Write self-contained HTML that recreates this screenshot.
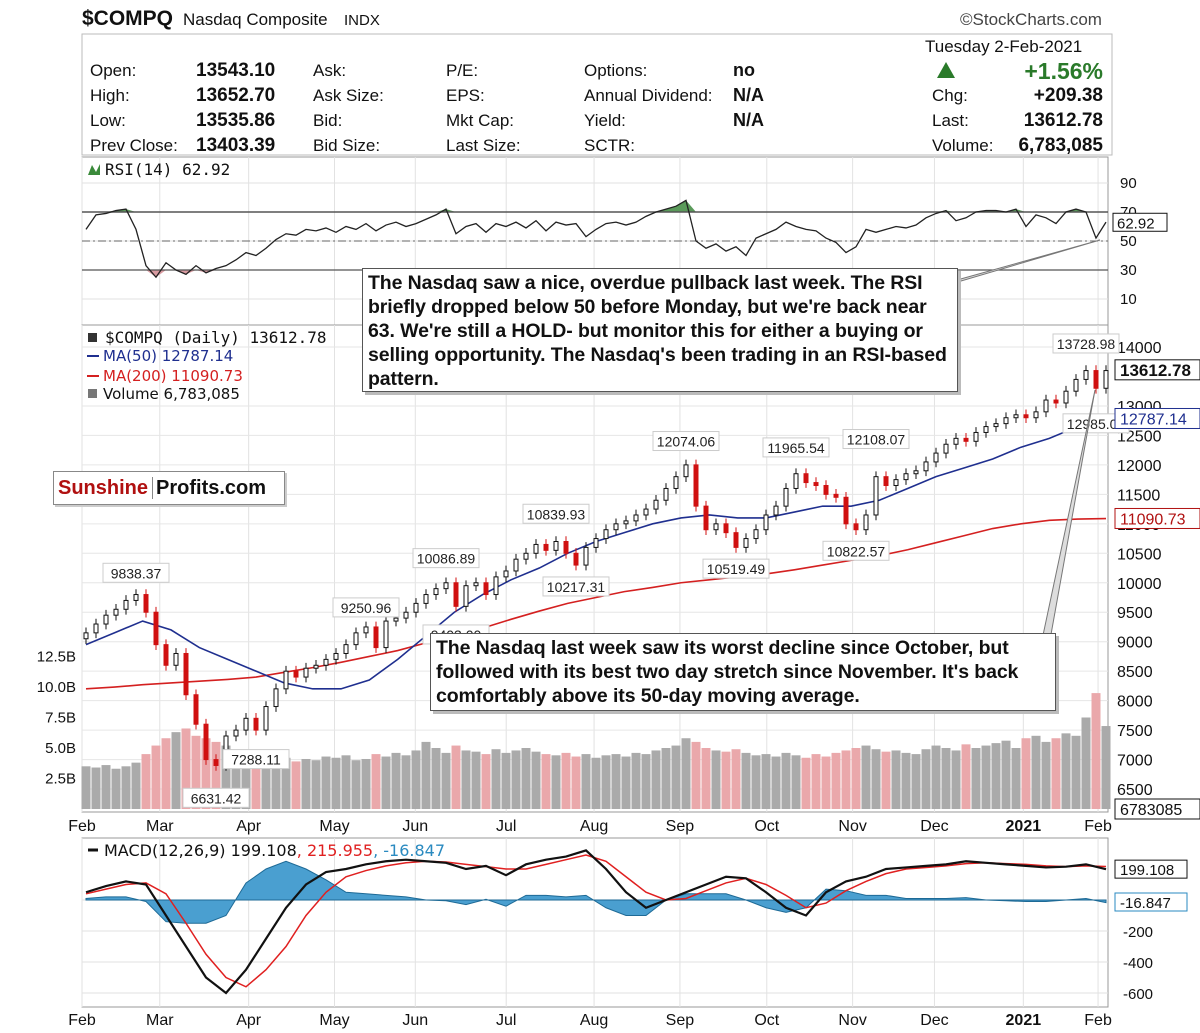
<!DOCTYPE html>
<html><head><meta charset="utf-8">
<style>
body{margin:0;background:#fff;width:1200px;height:1033px;overflow:hidden;font-family:"Liberation Sans",sans-serif}
svg{position:absolute;left:0;top:0}
.note{position:absolute;background:#fff;border:1px solid #555;box-shadow:3px 3px 0 #bbb;font:bold 19.5px "Liberation Sans",sans-serif;color:#111;line-height:24px;padding:2px 5px;letter-spacing:-0.1px}
</style></head><body>
<svg id="c" width="1200" height="1033" xmlns="http://www.w3.org/2000/svg"></svg>
<div class="note" style="left:362px;top:268px;width:584px;height:118px">The Nasdaq saw a nice, overdue pullback last week. The RSI briefly dropped below 50 before Monday, but we're back near 63. We're still a HOLD- but monitor this for either a buying or selling opportunity. The Nasdaq's been trading in an RSI-based pattern.</div>
<div class="note" style="left:430px;top:633px;width:614px;height:72px">The Nasdaq last week saw its worst decline since October, but followed with its best two day stretch since November. It's back comfortably above its 50-day moving average.</div>
<div style="position:absolute;left:53px;top:471px;width:230px;height:32px;border:1px solid #888;background:#fff;box-shadow:2px 2px 0 #ccc;font:bold 20px 'Liberation Sans',sans-serif;line-height:32px"><span style="color:#b01010;padding:0 4px;border-right:1px solid #888">Sunshine</span><span style="color:#111;padding-left:3px">Profits.com</span></div>
<script>
// ---- data ----
const months = ["Feb","Mar","Apr","May","Jun","Jul","Aug","Sep","Oct","Nov","Dec","2021","Feb"];
const monthIdx = [0,7.7,16.5,25,33,42,50.7,59.2,67.8,76.3,84.4,93.2,100.6];
const closes = [9150,9300,9450,9550,9700,9800,9500,8950,8600,8800,8100,7600,7000,6900,7400,7500,7700,7500,7900,8200,8500,8400,8550,8600,8700,8800,8950,9150,9250,8900,9350,9400,9500,9650,9800,9900,10000,9600,9950,10000,9800,10100,10200,10400,10500,10650,10550,10700,10500,10300,10600,10750,10900,11000,11050,11150,11250,11400,11600,11800,12000,11300,10900,11000,10850,10600,10750,10900,11150,11300,11600,11850,11700,11650,11500,11450,11000,10900,11150,11800,11650,11750,11850,11900,12050,12200,12350,12450,12400,12550,12650,12700,12800,12850,12800,12900,13100,13050,13250,13450,13600,13300,13600];
const volumes = [3.5,3.4,3.6,3.3,3.5,3.8,4.5,5.2,5.8,6.3,6.6,6.0,5.8,5.5,5.2,4.8,4.5,4.2,4.4,4.0,4.2,3.9,4.1,4.0,4.3,4.2,4.4,4.0,4.1,4.5,4.3,4.6,4.4,4.8,5.5,5.0,4.6,5.2,4.8,4.7,4.5,4.9,4.6,4.8,5.0,4.7,4.5,4.4,4.6,4.3,4.5,4.2,4.4,4.5,4.3,4.6,4.5,4.8,5.0,5.2,5.8,5.5,5.0,4.8,4.7,4.9,4.6,4.4,4.5,4.3,4.6,4.4,4.2,4.5,4.3,4.6,4.8,5.0,5.2,4.9,4.7,4.8,4.6,4.5,4.9,5.2,5.0,4.8,5.3,5.0,5.2,5.4,5.6,5.0,5.8,6.0,5.5,5.8,6.2,6.0,7.5,9.5,6.8];
const ma50 = [8950,9150,9350,9200,8900,8700,8500,8300,8200,8200,8350,8700,9100,9500,9800,10050,10250,10500,10700,10850,11000,11100,11150,11100,11100,11200,11300,11300,11400,11600,11800,11950,12100,12300,12450,12650,12790];
const ma200 = [8200,8230,8270,8300,8330,8360,8400,8480,8560,8650,8750,8850,8980,9100,9230,9380,9520,9650,9750,9850,9920,10000,10050,10100,10150,10220,10300,10380,10460,10560,10680,10800,10920,11000,11060,11080,11090];
const rsi = [58,68,69,71,72,58,33,25,35,30,27,33,28,31,33,37,42,40,45,51,55,54,58,57,59,56,60,58,62,57,61,63,60,62,65,68,72,55,60,62,56,62,60,63,59,64,57,63,61,62,53,58,62,63,61,63,67,70,72,74,78,50,45,48,43,46,40,52,55,58,63,60,58,57,52,49,42,46,58,56,58,60,59,61,66,69,71,64,66,70,71,71,70,72,60,68,66,62,70,72,70,52,63];
const macd = [50,90,120,100,-100,-300,-500,-600,-450,-250,-50,100,180,200,230,250,260,250,240,200,220,160,230,260,280,320,200,50,-50,0,50,100,150,140,50,-50,-100,50,120,150,200,210,220,230,250,240,230,220,210,215,230,199];
const signal = [40,70,100,110,40,-150,-350,-500,-560,-450,-300,-100,50,150,190,220,240,250,245,230,215,200,200,230,260,290,250,150,50,0,10,60,110,140,100,30,-50,-20,60,120,170,200,210,220,235,240,235,230,220,215,220,216];
const peakVals = [9838.37,6631.42,7288.11,9250.96,10086.89,9403.00,10839.93,10217.31,12074.06,10519.49,11965.54,10822.57,12108.07,13728.98,12985.05];
const peakIdx = [5,13,17,28,36,37,47,49,60,65,71,77,79,100,101];
const peakUp = [1,0,0,1,1,0,1,0,1,0,1,0,1,1,0];
const priceTicks = [14000,13000,12500,12000,11500,11000,10500,10000,9500,9000,8500,8000,7500,7000,6500];
const volTicks = [2.5,5,7.5,10,12.5];
const rsiTicks = [90,70,50,30,10];
const macdTicks = [-200,-400,-600];

// ---- scales ----
const L=82,R=1108;
const xI=i=>L+4+i*10;
const xS=(i,n)=>L+4+i*(1020/(n-1));
const yP=p=>347+(14000-p)/500*29.47;
const yV=v=>809-v*12.2;
const yR=v=>183+(90-v)*1.45;
const yM=v=>900-v*0.155;
const xM=m=>L+m*10.1;

const svg=document.getElementById('c');
const NS='http://www.w3.org/2000/svg';
function mk(tag,at,parent){const e=document.createElementNS(NS,tag);for(const k in at)e.setAttribute(k,at[k]);(parent||svg).appendChild(e);return e;}
function txt(s,x,y,at){const e=mk('text',Object.assign({x:x,y:y,'font-family':'Liberation Sans, sans-serif','font-size':15,fill:'#111'},at||{}));e.textContent=s;return e;}

// header
let t=txt('$COMPQ',82,25,{'font-size':21,'font-weight':'bold'});


txt('Nasdaq Composite',183,25,{'font-size':17});
txt('INDX',344,25,{'font-size':15});
t=txt('©StockCharts.com',960,25,{'font-size':17,fill:'#444'});


let box=mk('rect',{x:82,y:34,width:1030,height:121,fill:'#fff',stroke:'#bbb'});


const rows=[["Open:","13543.10","Ask:","P/E:","Options:","no"],["High:","13652.70","Ask Size:","EPS:","Annual Dividend:","N/A"],["Low:","13535.86","Bid:","Mkt Cap:","Yield:","N/A"],["Prev Close:","13403.39","Bid Size:","Last Size:","SCTR:",""]];
rows.forEach((r,k)=>{const y=76+k*25;
 txt(r[0],90,y,{'font-size':17});txt(r[1],196,y,{'font-size':19,'font-weight':'bold'});
 txt(r[2],313,y,{'font-size':17});txt(r[3],446,y,{'font-size':17});txt(r[4],584,y,{'font-size':17});
 txt(r[5],733,y,{'font-size':18,'font-weight':'bold'});
});
txt('Tuesday  2-Feb-2021',925,52,{'font-size':17});
mk('polygon',{points:'937,78 946,62 955,78',fill:'#2a7a2a'});
txt('+1.56%',1103,79,{'font-size':23,'font-weight':'bold',fill:'#2a7a2a','text-anchor':'end'});
txt('Chg:',932,101,{'font-size':17});txt('+209.38',1103,101,{'font-size':19,'font-weight':'bold','text-anchor':'end'});
txt('Last:',932,126,{'font-size':17});txt('13612.78',1103,126,{'font-size':19,'font-weight':'bold','text-anchor':'end'});
txt('Volume:',932,151,{'font-size':17});txt('6,783,085',1103,151,{'font-size':19,'font-weight':'bold','text-anchor':'end'});

// panels
function panel(y0,y1,name){const r=mk('rect',{x:L,y:y0,width:R-L,height:y1-y0,fill:'none',stroke:'#999'});
 monthIdx.forEach(m=>mk('line',{x1:xM(m),x2:xM(m),y1:y0,y2:y1,stroke:'#e2e2e2'}));}
panel(157,325,'rsi-panel');panel(325,812,'price-panel');panel(838,1007,'macd-panel');

// RSI
rsiTicks.forEach(v=>{mk('line',{x1:L,x2:R,y1:yR(v),y2:yR(v),stroke:'#e2e2e2'});txt(String(v),1120,yR(v)+5,{'font-size':15});});
rsi.forEach((v,i)=>{if(i===0)return;const a=rsi[i-1];
 if(v>70||a>70){const p=Math.max(a,70),q=Math.max(v,70);mk('polygon',{points:`${xI(i-1)},${yR(70)} ${xI(i-1)},${yR(p)} ${xI(i)},${yR(q)} ${xI(i)},${yR(70)}`,fill:'#5a9a5a'});}
 if(v<30||a<30){const p=Math.min(a,30),q=Math.min(v,30);mk('polygon',{points:`${xI(i-1)},${yR(30)} ${xI(i-1)},${yR(p)} ${xI(i)},${yR(q)} ${xI(i)},${yR(30)}`,fill:'#d89aa0'});}
});
mk('line',{x1:L,x2:R,y1:yR(70),y2:yR(70),stroke:'#555','stroke-width':1.5});
mk('line',{x1:L,x2:R,y1:yR(30),y2:yR(30),stroke:'#555','stroke-width':1.2});
mk('line',{x1:L,x2:R,y1:yR(50),y2:yR(50),stroke:'#666','stroke-dasharray':'8,3,2,3'});
let rp=mk('polyline',{points:rsi.map((v,i)=>xI(i)+','+yR(v)).join(' '),fill:'none',stroke:'#222','stroke-width':1.3});


txt('RSI(14) 62.92',105,175,{'font-size':16,'font-family':'DejaVu Sans Mono, monospace'});
mk('polygon',{points:'88,175 92,165 96,172 100,164 100,175',fill:'#3a8a3a'});
mk('rect',{x:1113,y:yR(62.92)-9,width:54,height:18,fill:'#fff',stroke:'#111'});
txt('62.92',1117,yR(62.92)+6,{'font-size':15});

// price grid & ticks
priceTicks.forEach(p=>{mk('line',{x1:L,x2:R,y1:yP(p),y2:yP(p),stroke:'#e6e6e6'});txt(String(p),1117,yP(p)+6,{'font-size':16});});
volTicks.forEach(v=>{txt(v.toFixed(1)+'B',76,yV(v)+5,{'font-size':15,'text-anchor':'end'});});

// volume bars
volumes.forEach((v,i)=>{const up=i===0||closes[i]>=closes[i-1];
 const b=mk('rect',{x:xI(i)-4.5,y:yV(v),width:9,height:809-yV(v),fill:up?'#aaaaaa':'#eaa8ab'});
 
 
});
// MAs
let m2=mk('polyline',{points:ma200.map((v,i)=>xS(i,ma200.length)+','+yP(v)).join(' '),fill:'none',stroke:'#d42020','stroke-width':1.6});


let m1=mk('polyline',{points:ma50.map((v,i)=>xS(i,ma50.length)+','+yP(v)).join(' '),fill:'none',stroke:'#1f2f8f','stroke-width':1.6});


// candles
closes.forEach((c,i)=>{const o=i?closes[i-1]:c-100;const up=c>=o;
 const hi=Math.max(o,c)+90,lo=Math.min(o,c)-90;
 mk('line',{x1:xI(i),x2:xI(i),y1:yP(hi),y2:yP(lo),stroke:up?'#111':'#d01010'});
 const cd=mk('rect',{x:xI(i)-2,y:yP(Math.max(o,c)),width:4,height:Math.max(1,Math.abs(yP(o)-yP(c))),fill:up?'#fff':'#d01010',stroke:up?'#111':'#d01010'});
 
 
});
// peak labels
peakVals.forEach((v,k)=>{const x=xI(peakIdx[k]);const y=peakUp[k]?yP(v)-14:yP(v)+22;
 const s=v.toFixed(2);
 mk('rect',{x:x-33,y:y-15,width:66,height:19,fill:'#fff',stroke:'#ccc'});
 const lb=txt(s,x,y,{'font-size':14,'text-anchor':'middle',fill:'#222'});
 
 
});
// price legend
txt('$COMPQ (Daily) 13612.78',105,343,{'font-size':16,'font-family':'DejaVu Sans Mono, monospace'});
mk('rect',{x:88,y:333,width:9,height:9,fill:'#333'});
mk('line',{x1:87,x2:99,y1:356,y2:356,stroke:'#1f2f8f','stroke-width':2});txt('MA(50) 12787.14',103,361,{'font-size':15,fill:'#1f2f8f','font-family':'DejaVu Sans, sans-serif'});
mk('line',{x1:87,x2:99,y1:376,y2:376,stroke:'#d42020','stroke-width':2});txt('MA(200) 11090.73',103,381,{'font-size':15,fill:'#d42020','font-family':'DejaVu Sans, sans-serif'});
mk('rect',{x:88,y:389,width:9,height:9,fill:'#777'});txt('Volume 6,783,085',103,399,{'font-size':15,'font-family':'DejaVu Sans, sans-serif'});
function rlab(s,y,col,bold){mk('rect',{x:1115,y:y-10,width:85,height:20,fill:'#fff',stroke:col});txt(s,1120,y+6,{'font-size':bold?17:16,'font-weight':bold?'bold':'normal',fill:col});}
rlab('13612.78',yP(13612.78),'#111',true);rlab('12787.14',yP(12787.14),'#1f2f8f');rlab('11090.73',yP(11090.73),'#b01010');rlab('6783085',yV(0),'#111');

months.forEach((m,k)=>{txt(m,xM(monthIdx[k]),831,{'font-size':16,'text-anchor':'middle','font-weight':m==='2021'?'bold':'normal'});
 txt(m,xM(monthIdx[k]),1025,{'font-size':16,'text-anchor':'middle','font-weight':m==='2021'?'bold':'normal'});});

// MACD
[0].concat(macdTicks).forEach(v=>{mk('line',{x1:L,x2:R,y1:yM(v),y2:yM(v),stroke:'#e2e2e2'});});
macdTicks.forEach(v=>txt(String(v),1123,yM(v)+6,{'font-size':15}));
const histPts=macd.map((v,i)=>xS(i,macd.length)+','+yM(v-signal[i]));
let hg=mk('polygon',{points:`${xS(0,macd.length)},${yM(0)} `+histPts.join(' ')+` ${xS(macd.length-1,macd.length)},${yM(0)}`,fill:'#4a9fd0',stroke:'#1e6a96','stroke-width':1});


let sg=mk('polyline',{points:signal.map((v,i)=>xS(i,signal.length)+','+yM(v)).join(' '),fill:'none',stroke:'#e02020','stroke-width':1.5});


let ml=mk('polyline',{points:macd.map((v,i)=>xS(i,macd.length)+','+yM(v)).join(' '),fill:'none',stroke:'#111','stroke-width':2.2});


mk('line',{x1:88,x2:98,y1:850,y2:850,stroke:'#111','stroke-width':3});
const mt=mk('text',{x:104,y:856,'font-size':16,'font-family':'DejaVu Sans, sans-serif'});
mt.innerHTML='<tspan fill="#111">MACD(12,26,9) 199.108</tspan><tspan fill="#e02020">, 215.955</tspan><tspan fill="#2a8ac0">, -16.847</tspan>';
mk('rect',{x:1115,y:yM(199.1)-9,width:72,height:18,fill:'#fff',stroke:'#111'});txt('199.108',1120,yM(199.1)+6,{'font-size':15});
mk('rect',{x:1115,y:yM(0)-7,width:72,height:18,fill:'#fff',stroke:'#2a8ac0'});txt('-16.847',1120,yM(0)+8,{'font-size':15});

mk('polygon',{points:'944,286 1100,240 950,282',fill:'#ddd',stroke:'#777'});
mk('polygon',{points:'1042,640 1095,390 1050,640',fill:'#ddd',stroke:'#777'});
</script>
</body></html>
